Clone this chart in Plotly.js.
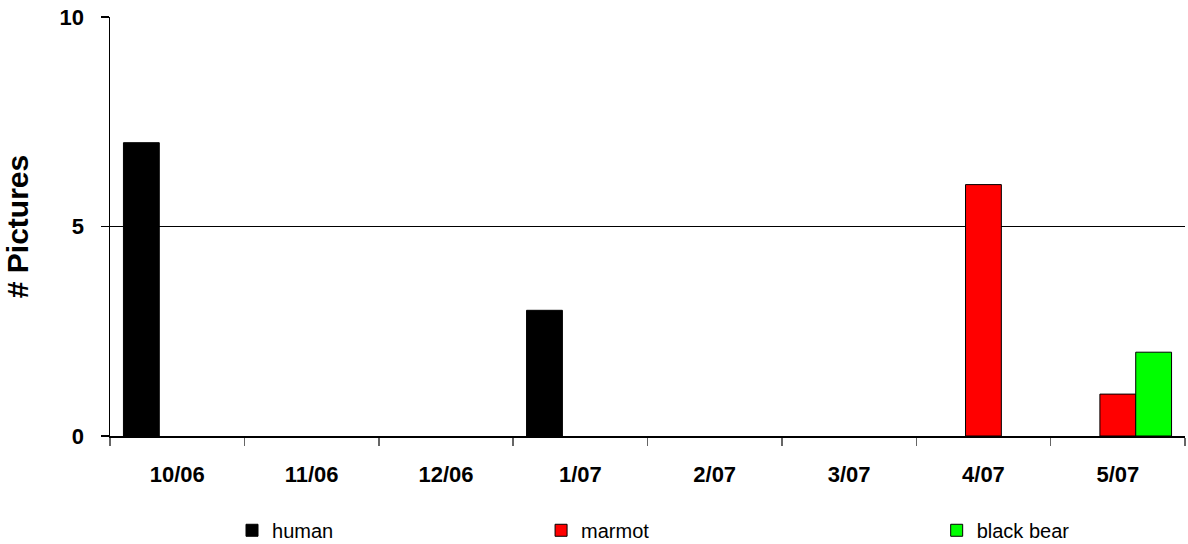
<!DOCTYPE html>
<html><head><meta charset="utf-8">
<script src="https://cdn.plot.ly/plotly-3.0.1.min.js"></script>
<style>html,body{margin:0;padding:0;background:#fff}#chart{width:1188px;height:544px}</style>
</head><body><div id="chart"></div>
<script>
const categories = ['10/06','11/06','12/06','1/07','2/07','3/07','4/07','5/07'];
const human = [7,0,0,3,0,0,0,0];
const marmot = [0,0,0,0,0,0,6,1];
const blackBear = [0,0,0,0,0,0,0,2];
const seriesNames = ['human','marmot','black bear'];
const seriesColors = ['#000000','#FF0000','#00FF00'];
const yTicks = [0,5,10];

const FONT = 'Arial, Liberation Sans, sans-serif';
const data = [human, marmot, blackBear].map((vals,i)=>({
  type:'bar', x:categories, y:vals.map(v => v === 0 ? null : v), name:seriesNames[i],
  marker:{color:seriesColors[i], line:{color:'#000', width:1}},
  legend: i===0 ? 'legend' : ('legend'+(i+1))
}));

const legendBase = {orientation:'h', yanchor:'middle', xanchor:'left', y:-0.225,
  font:{family:FONT, size:20, color:'#000'},
  bgcolor:'rgba(0,0,0,0)', itemwidth:30, tracegroupgap:0};

const layout = {
  width:1188, height:544,
  margin:{l:110, r:3, t:17, b:108, autoexpand:false},
  paper_bgcolor:'#fff', plot_bgcolor:'#fff',
  barmode:'group', bargap:0.2, bargroupgap:0,
  font:{family:FONT, color:'#000'},
  xaxis:{type:'category', showline:true, linecolor:'#000', linewidth:1.5,
    ticks:'outside', tickson:'boundaries', ticklen:8, tickcolor:'#666', tickwidth:1.5,
    tickfont:{size:22, family:FONT, weight:'bold'},
    ticklabelstandoff:18, showgrid:false, fixedrange:true, automargin:false},
  yaxis:{range:[0,10], tickvals:yTicks, showline:true, linecolor:'#000', linewidth:1.5,
    ticks:'outside', ticklen:8, tickcolor:'#000', tickwidth:1.5,
    showgrid:true, gridcolor:'#000', gridwidth:1, zeroline:false,
    tickfont:{size:22, family:FONT, weight:'bold'},
    ticklabelstandoff:12, automargin:false,
    title:{text:'# Pictures', font:{size:30, family:FONT, weight:'bold'}, standoff:22}},
  showlegend:true,
  legend:Object.assign({}, legendBase, {x:0.1135}),
  legend2:Object.assign({}, legendBase, {x:0.401}),
  legend3:Object.assign({}, legendBase, {x:0.769})
};
Plotly.newPlot('chart', data, layout, {displayModeBar:false, staticPlot:true});
</script></body></html>
